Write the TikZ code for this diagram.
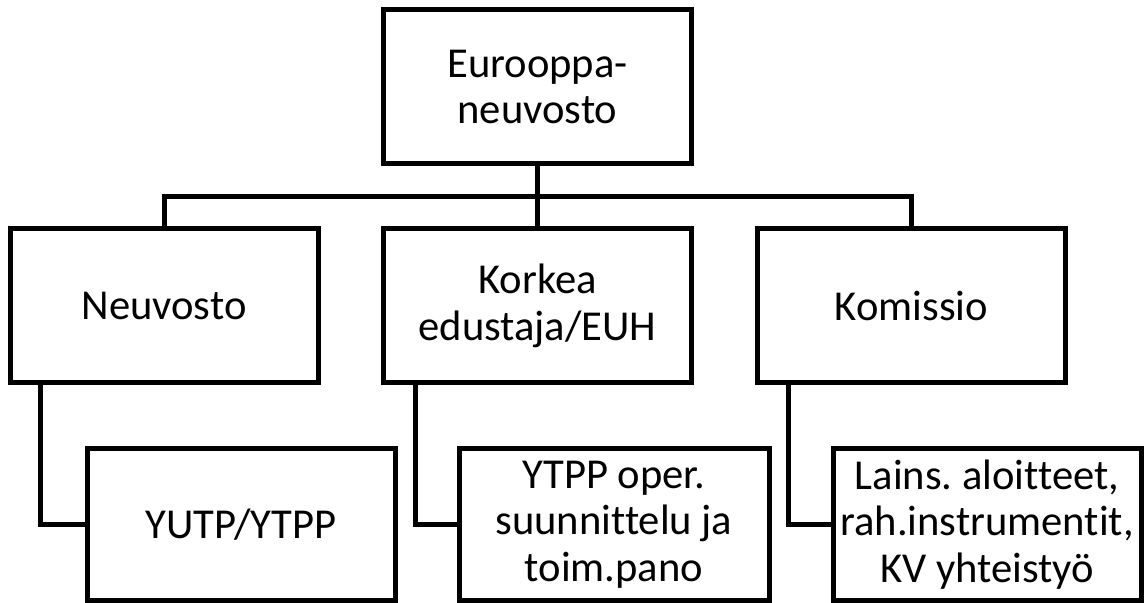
\documentclass[tikz,border=0pt]{standalone}
\usepackage{fontspec}
\setmainfont{Carlito}[Ligatures=NoCommon]
\frenchspacing
\usetikzlibrary{positioning}

\tikzset{
  box/.style={draw, line width=2.5pt, inner sep=0pt, outer sep=0pt,
    minimum width=154pt, minimum height=77pt, align=center,
    font=\fontsize{21.3}{23.2}\selectfont},
  subbox/.style={box, minimum height=75.5pt},
  link/.style={line width=2.5pt}
}

\begin{document}
\begin{tikzpicture}[x=0.5pt, y=-0.5pt]
  \useasboundingbox (0,0) rectangle (1145,603);
  \node[box] (euro) at (537.5,87) {Eurooppa-\\neuvosto};
  \node[box] (neuv) at (164,306) {Neuvosto};
  \node[box] (kork) at (537.5,306) {Korkea\\edustaja/EUH};
  \node[box] (komi) at (911.5,306) {Komissio};
  \node[subbox] (yutp) at (241,524.5) {YUTP/YTPP};
  \node[subbox, minimum width=155pt] (oper) at (614,524.5) {YTPP oper.\\suunnittelu ja\\toim.pano};
  \node[subbox] (lains) at (987,524.5) {Lains. aloitteet,\\rah.instrumentit,\\KV yhteistyö};
  \coordinate (bar) at (537.5,197);
  \draw[link] (euro.south) -- (bar);
  \draw[link] (neuv.north) |- (bar) -| (komi.north);
  \draw[link] (bar) -- (kork.north);
  \draw[link] ([xshift=15pt]neuv.south west) |- (yutp.west);
  \draw[link] ([xshift=16pt]kork.south west) |- (oper.west);
  \draw[link] ([xshift=15.5pt]komi.south west) |- (lains.west);
\end{tikzpicture}
\end{document}
